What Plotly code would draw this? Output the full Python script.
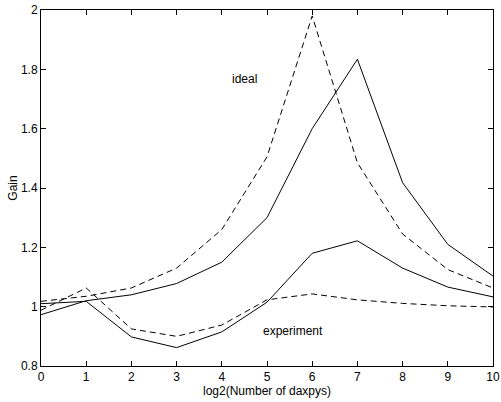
import plotly.graph_objects as go

x = [0, 1, 2, 3, 4, 5, 6, 7, 8, 9, 10]
ideal_dashed = [1.018, 1.035, 1.063, 1.13, 1.26, 1.505, 1.98, 1.485, 1.245, 1.125, 1.063]
ideal_solid = [0.973, 1.02, 1.04, 1.078, 1.15, 1.30, 1.60, 1.834, 1.418, 1.21, 1.103]
exp_solid = [1.01, 1.018, 0.898, 0.862, 0.915, 1.015, 1.18, 1.222, 1.13, 1.066, 1.033]
exp_dashed = [0.988, 1.063, 0.925, 0.90, 0.938, 1.023, 1.043, 1.023, 1.011, 1.003, 0.999]

font = dict(family="Liberation Sans, Arial, sans-serif", size=12, color="black")

fig = go.Figure()
for ys, dash in [(ideal_dashed, "6px,4px"), (ideal_solid, "solid"),
                 (exp_solid, "solid"), (exp_dashed, "6px,4px")]:
    fig.add_trace(go.Scatter(x=x, y=ys, mode="lines",
                             line=dict(color="black", width=1, dash=dash),
                             showlegend=False, hoverinfo="skip"))

fig.add_annotation(x=4.51, y=1.767, text="ideal", showarrow=False, font=font)
fig.add_annotation(x=5.58, y=0.918, text="experiment", showarrow=False, font=font)

axis_common = dict(showgrid=False, zeroline=False, showline=True, linecolor="black",
                   linewidth=1, mirror="ticks", ticks="inside", ticklen=5,
                   tickcolor="black", tickfont=font, automargin=False)

fig.update_layout(
    width=501, height=402,
    margin=dict(l=41, r=8, t=10, b=36, pad=0),
    paper_bgcolor="white", plot_bgcolor="white",
    font=font,
    xaxis=dict(range=[0, 10], tickvals=list(range(11)),
               title=dict(text="log2(Number of daxpys)", font=font, standoff=0),
               **axis_common),
    yaxis=dict(range=[0.8, 2.0], tickvals=[0.8, 1.0, 1.2, 1.4, 1.6, 1.8, 2.0],
               ticktext=["0.8", "1", "1.2", "1.4", "1.6", "1.8", "2"],
               title=dict(text="Gain", font=font, standoff=0),
               **axis_common),
)

fig.write_html("out.html")
